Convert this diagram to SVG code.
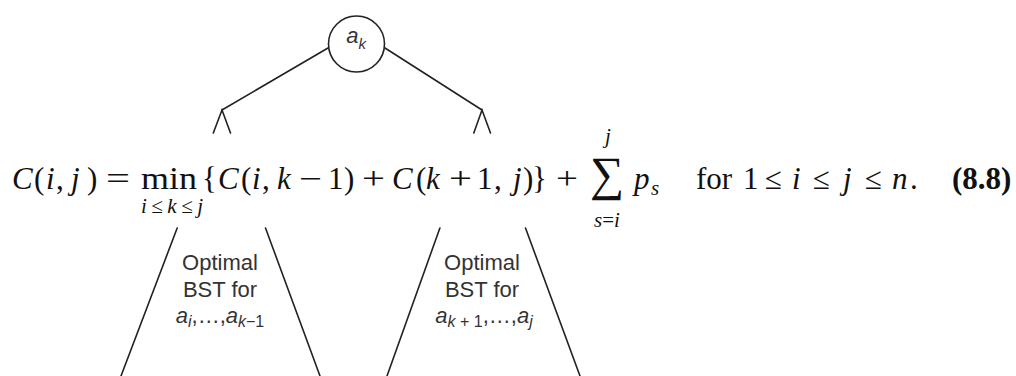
<svg xmlns="http://www.w3.org/2000/svg" width="1016" height="376" viewBox="0 0 1016 376">
<style>
.ln{stroke:#222;stroke-width:1.6;fill:none;stroke-linecap:round}
.lbl{font-family:"Liberation Sans",Arial,sans-serif;font-size:22px;fill:#333;text-anchor:middle}
.eq{font-family:"Liberation Serif","Times New Roman",serif;font-size:31px;fill:#111}
.it{font-style:italic}
.sm{font-size:21px}
</style>
<rect width="1016" height="376" fill="#fff"/>
<g id="connectors">
<line class="ln" x1="328" y1="48" x2="222" y2="110"/>
<line class="ln" x1="385" y1="48" x2="482" y2="110"/>
</g>
<g id="root">
<circle cx="356.5" cy="44" r="28" fill="#fff" stroke="#222" stroke-width="1.6"/>
<text class="lbl" x="356" y="43" font-style="italic" fill="#444">a<tspan font-size="15" dy="6">k</tspan></text>
</g>
<g id="left-subtree">
<polyline class="ln" points="213.3,133 222,110 230.5,133"/>
<line class="ln" x1="177.2" y1="228" x2="121" y2="376"/>
<line class="ln" x1="265.5" y1="228" x2="320" y2="376"/>
<text class="lbl" x="220" y="270">Optimal</text>
<text class="lbl" x="220" y="297">BST for</text>
<text class="lbl" x="220" y="323"><tspan font-style="italic">a</tspan><tspan font-size="16" dy="4" font-style="italic">i</tspan><tspan dy="-4">,…,</tspan><tspan font-style="italic">a</tspan><tspan font-size="16" dy="4" font-style="italic">k</tspan><tspan font-size="16">−1</tspan></text>
</g>
<g id="right-subtree">
<polyline class="ln" points="473.8,133 482,110 490.5,133"/>
<line class="ln" x1="439.9" y1="228" x2="387" y2="376"/>
<line class="ln" x1="525.5" y1="228" x2="580" y2="376"/>
<text class="lbl" x="482" y="270">Optimal</text>
<text class="lbl" x="482" y="297">BST for</text>
<text class="lbl" x="484" y="323"><tspan font-style="italic">a</tspan><tspan font-size="16" dy="4" font-style="italic">k</tspan><tspan font-size="16"> + 1</tspan><tspan dy="-4">,…,</tspan><tspan font-style="italic">a</tspan><tspan font-size="16" dy="4" font-style="italic">j</tspan></text>
</g>
<g id="equation" class="eq">
<text x="12" y="189" class="it">C</text>
<text x="34" y="189">(</text>
<text x="46" y="189" class="it">i</text>
<text x="56" y="189">,</text>
<text x="71" y="189" class="it">j</text>
<text x="87" y="189">)</text>
<text x="106" y="189" textLength="24" lengthAdjust="spacingAndGlyphs">=</text>
<text x="141" y="189" textLength="56" lengthAdjust="spacingAndGlyphs">min</text>
<text x="141" y="213" class="it sm" textLength="62" lengthAdjust="spacing">i≤k≤j</text>
<text x="202" y="189">{</text>
<text x="218" y="189" class="it">C</text>
<text x="241" y="189">(</text>
<text x="252" y="189" class="it">i</text>
<text x="262" y="189">,</text>
<text x="277" y="189" class="it">k</text>
<text x="299" y="189" textLength="23" lengthAdjust="spacingAndGlyphs">−</text>
<text x="328" y="189">1</text>
<text x="344" y="189">)</text>
<text x="362" y="189" textLength="23" lengthAdjust="spacingAndGlyphs">+</text>
<text x="392" y="189" class="it">C</text>
<text x="416" y="189">(</text>
<text x="426" y="189" class="it">k</text>
<text x="449" y="189" textLength="23" lengthAdjust="spacingAndGlyphs">+</text>
<text x="477" y="189">1</text>
<text x="494" y="189">,</text>
<text x="513" y="189" class="it">j</text>
<text x="523" y="189">)</text>
<text x="532" y="189">}</text>
<text x="556" y="189" textLength="22" lengthAdjust="spacingAndGlyphs">+</text>
<text x="590" y="190" font-size="48">∑</text>
<text x="608" y="143" class="it sm" text-anchor="middle">j</text>
<text x="607" y="227" class="sm" text-anchor="middle"><tspan class="it">s</tspan>=<tspan class="it">i</tspan></text>
<text x="634" y="189" class="it">p</text>
<text x="651" y="195" class="it sm">s</text>
<text x="696" y="189">for</text>
<text x="743" y="189">1</text>
<text x="765" y="189">≤</text>
<text x="792" y="189" class="it">i</text>
<text x="813" y="189">≤</text>
<text x="843" y="189" class="it">j</text>
<text x="865" y="189">≤</text>
<text x="892" y="189" class="it">n</text>
<text x="910" y="189">.</text>
<text x="952" y="189" font-weight="bold">(8.8)</text>
</g>
</svg>
